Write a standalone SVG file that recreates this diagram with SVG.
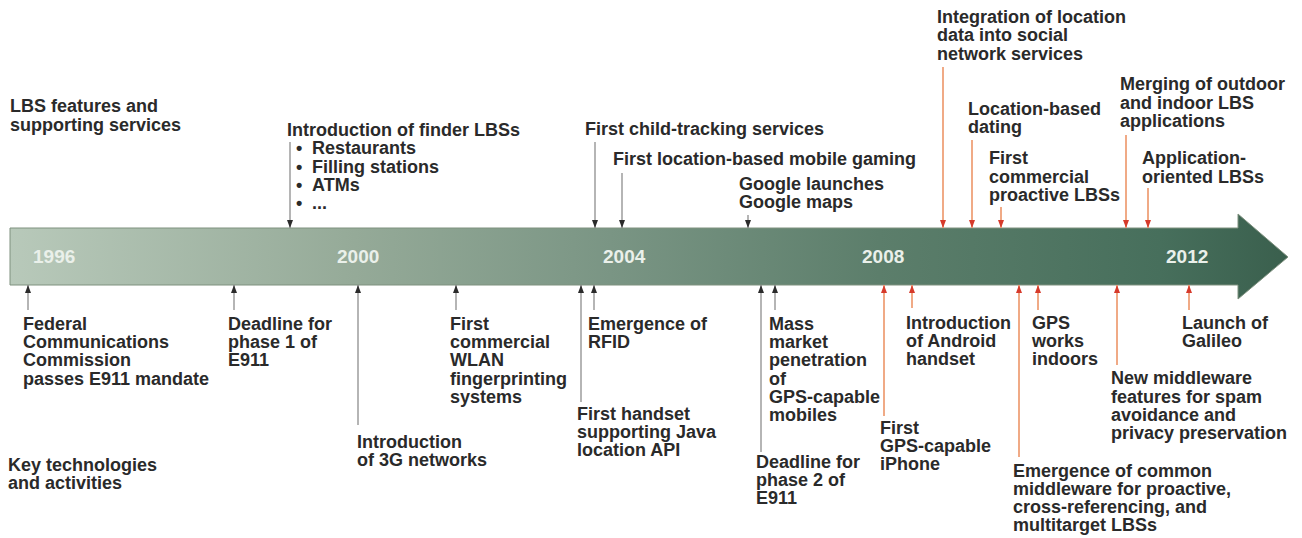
<svg xmlns="http://www.w3.org/2000/svg" width="1302" height="538" viewBox="0 0 1302 538">
  <style>
    .t { font-family: "Liberation Sans", Arial, sans-serif; font-weight: bold; font-size: 18px; fill: #2a2a2a; }
    .yr { font-family: "Liberation Sans", Arial, sans-serif; font-weight: bold; font-size: 19px; fill: #eaf0ea; }
    .lk { stroke: #9c9c9c; stroke-width: 1.5; fill: none; marker-end: url(#hk); }
    .lr { stroke: #f0aa86; stroke-width: 2; fill: none; marker-end: url(#hr); }
  </style>
  <defs>
    <linearGradient id="barg" x1="10" y1="0" x2="1288" y2="0" gradientUnits="userSpaceOnUse">
      <stop offset="0" stop-color="#b8c9ba"/>
      <stop offset="0.27" stop-color="#95aa98"/>
      <stop offset="0.47" stop-color="#7a9584"/>
      <stop offset="0.68" stop-color="#5c7e6b"/>
      <stop offset="0.9" stop-color="#476f5c"/>
      <stop offset="1" stop-color="#3a5f4d"/>
    </linearGradient>
    <marker id="hk" viewBox="0 0 8 6" refX="8" refY="3" markerWidth="8" markerHeight="6" markerUnits="userSpaceOnUse" orient="auto">
      <path d="M0,0 L8,3 L0,6 z" fill="#2b2b2b"/>
    </marker>
    <marker id="hr" viewBox="0 0 8 6" refX="8" refY="3" markerWidth="8" markerHeight="6" markerUnits="userSpaceOnUse" orient="auto">
      <path d="M0,0 L8,3 L0,6 z" fill="#d63a2b"/>
    </marker>
  </defs>

  <g id="timeline">
    <polygon points="10,228 1238,228 1238,214 1288,257 1238,299 1238,285 10,285" fill="url(#barg)" stroke="#7f917f" stroke-width="1"/>
    <text class="yr" x="33" y="263">1996</text>
    <text class="yr" x="337" y="263">2000</text>
    <text class="yr" x="603" y="263">2004</text>
    <text class="yr" x="862" y="263">2008</text>
    <text class="yr" x="1166" y="263">2012</text>
  </g>

  <g id="section-labels">
    <text class="t" x="10" y="112">LBS features and</text>
    <text class="t" x="10" y="130.5">supporting services</text>
    <text class="t" x="8" y="471">Key technologies</text>
    <text class="t" x="8" y="489">and activities</text>
  </g>

  <g id="connectors">
    <line class="lk" x1="290" y1="142" x2="290" y2="228"/>
    <line class="lk" x1="595" y1="142" x2="595" y2="228"/>
    <line class="lk" x1="622" y1="173" x2="622" y2="228"/>
    <line class="lk" x1="748" y1="215" x2="748" y2="228"/>
    <line class="lr" x1="943" y1="67" x2="943" y2="228"/>
    <line class="lr" x1="972" y1="140" x2="972" y2="228"/>
    <line class="lr" x1="1001" y1="207" x2="1001" y2="228"/>
    <line class="lr" x1="1126" y1="135" x2="1126" y2="228"/>
    <line class="lr" x1="1148" y1="188" x2="1148" y2="228"/>
    <line class="lk" x1="28" y1="310" x2="28" y2="285"/>
    <line class="lk" x1="234" y1="310" x2="234" y2="285"/>
    <line class="lk" x1="358" y1="425" x2="358" y2="285"/>
    <line class="lk" x1="456" y1="310" x2="456" y2="285"/>
    <line class="lk" x1="581" y1="402" x2="581" y2="285"/>
    <line class="lk" x1="594" y1="310" x2="594" y2="285"/>
    <line class="lk" x1="761" y1="452" x2="761" y2="285"/>
    <line class="lk" x1="775" y1="310" x2="775" y2="285"/>
    <line class="lr" x1="884" y1="416" x2="884" y2="285"/>
    <line class="lr" x1="912" y1="308" x2="912" y2="285"/>
    <line class="lr" x1="1019" y1="457" x2="1019" y2="285"/>
    <line class="lr" x1="1038" y1="310" x2="1038" y2="285"/>
    <line class="lr" x1="1117" y1="365" x2="1117" y2="285"/>
    <line class="lr" x1="1189" y1="310" x2="1189" y2="285"/>
  </g>

  <g id="finder-lbs">
    <text class="t" x="287" y="135.5">Introduction of finder LBSs</text>
    <text class="t" y="154"><tspan x="296">•</tspan><tspan x="312">Restaurants</tspan></text>
    <text class="t" y="172.5"><tspan x="296">•</tspan><tspan x="312">Filling stations</tspan></text>
    <text class="t" y="190.5"><tspan x="296">•</tspan><tspan x="312">ATMs</tspan></text>
    <text class="t" y="208.5"><tspan x="296">•</tspan><tspan x="312">...</tspan></text>
  </g>
  <g id="child-tracking">
    <text class="t" x="585" y="135">First child-tracking services</text>
  </g>
  <g id="mobile-gaming">
    <text class="t" x="613" y="165">First location-based mobile gaming</text>
  </g>
  <g id="google-maps">
    <text class="t" x="739" y="189.5">Google launches</text>
    <text class="t" x="739" y="207.5">Google maps</text>
  </g>
  <g id="social-network">
    <text class="t" x="937" y="22.5">Integration of location</text>
    <text class="t" x="937" y="41">data into social</text>
    <text class="t" x="937" y="59.5">network services</text>
  </g>
  <g id="dating">
    <text class="t" x="968" y="114.5">Location-based</text>
    <text class="t" x="968" y="132.5">dating</text>
  </g>
  <g id="proactive">
    <text class="t" x="989" y="164">First</text>
    <text class="t" x="989" y="182.5">commercial</text>
    <text class="t" x="989" y="200.5">proactive LBSs</text>
  </g>
  <g id="merging">
    <text class="t" x="1120" y="90">Merging of outdoor</text>
    <text class="t" x="1120" y="108.5">and indoor LBS</text>
    <text class="t" x="1120" y="126.5">applications</text>
  </g>
  <g id="app-oriented">
    <text class="t" x="1142" y="164">Application-</text>
    <text class="t" x="1142" y="182.5">oriented LBSs</text>
  </g>

  <g id="fcc">
    <text class="t" x="23" y="329.5">Federal</text>
    <text class="t" x="23" y="347.5">Communications</text>
    <text class="t" x="23" y="366">Commission</text>
    <text class="t" x="23" y="384.5">passes E911 mandate</text>
  </g>
  <g id="phase1">
    <text class="t" x="228" y="329.5">Deadline for</text>
    <text class="t" x="228" y="347.5">phase 1 of</text>
    <text class="t" x="228" y="366">E911</text>
  </g>
  <g id="g3">
    <text class="t" x="357" y="448">Introduction</text>
    <text class="t" x="357" y="466">of 3G networks</text>
  </g>
  <g id="wlan">
    <text class="t" x="450" y="329.5">First</text>
    <text class="t" x="450" y="347.5">commercial</text>
    <text class="t" x="450" y="366">WLAN</text>
    <text class="t" x="450" y="384.5">fingerprinting</text>
    <text class="t" x="450" y="402.5">systems</text>
  </g>
  <g id="java">
    <text class="t" x="577" y="420">First handset</text>
    <text class="t" x="577" y="438">supporting Java</text>
    <text class="t" x="577" y="456">location API</text>
  </g>
  <g id="rfid">
    <text class="t" x="588" y="329.5">Emergence of</text>
    <text class="t" x="588" y="347.5">RFID</text>
  </g>
  <g id="phase2">
    <text class="t" x="756" y="468">Deadline for</text>
    <text class="t" x="756" y="486">phase 2 of</text>
    <text class="t" x="756" y="504">E911</text>
  </g>
  <g id="gps-mass">
    <text class="t" x="769" y="329.5">Mass</text>
    <text class="t" x="769" y="347.5">market</text>
    <text class="t" x="769" y="366">penetration</text>
    <text class="t" x="769" y="384.5">of</text>
    <text class="t" x="769" y="402.5">GPS-capable</text>
    <text class="t" x="769" y="421">mobiles</text>
  </g>
  <g id="iphone">
    <text class="t" x="880" y="433.5">First</text>
    <text class="t" x="880" y="451.5">GPS-capable</text>
    <text class="t" x="880" y="470">iPhone</text>
  </g>
  <g id="android">
    <text class="t" x="906" y="329">Introduction</text>
    <text class="t" x="906" y="347">of Android</text>
    <text class="t" x="906" y="365">handset</text>
  </g>
  <g id="middleware">
    <text class="t" x="1013" y="477">Emergence of common</text>
    <text class="t" x="1013" y="495">middleware for proactive,</text>
    <text class="t" x="1013" y="513">cross-referencing, and</text>
    <text class="t" x="1013" y="531">multitarget LBSs</text>
  </g>
  <g id="gps-indoors">
    <text class="t" x="1032" y="329">GPS</text>
    <text class="t" x="1032" y="347">works</text>
    <text class="t" x="1032" y="365">indoors</text>
  </g>
  <g id="spam">
    <text class="t" x="1111" y="384">New middleware</text>
    <text class="t" x="1111" y="402.5">features for spam</text>
    <text class="t" x="1111" y="420.5">avoidance and</text>
    <text class="t" x="1111" y="438.5">privacy preservation</text>
  </g>
  <g id="galileo">
    <text class="t" x="1182" y="328.5">Launch of</text>
    <text class="t" x="1182" y="347">Galileo</text>
  </g>
</svg>
